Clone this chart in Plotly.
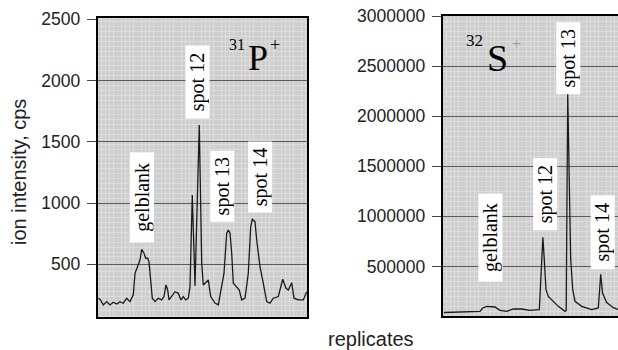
import plotly.graph_objects as go

# ---- data ----
# 31P+ panel: replicate position (arbitrary units) and ion intensity (cps)
p_x = [0.6, 2.3, 5.6, 9.0, 12.3, 15.6, 19.0, 22.3, 25.6, 29.0,
       32.3, 35.6, 37.3, 40.0, 42.3, 44.0, 46.3, 48.0, 50.0, 51.3,
       53.0, 54.6, 57.3, 60.6, 64.0, 66.3, 68.3, 70.0, 71.3, 74.0,
       77.3, 80.6, 83.3, 85.6, 88.0, 90.6, 92.3, 94.6, 97.3, 101.6,
       104.0, 105.6, 110.6, 113.0, 117.3, 120.6, 124.0, 126.3, 129.0, 130.6,
       132.3, 134.0, 135.6, 139.0, 141.6, 144.0, 147.3, 150.6, 153.0, 154.6,
       157.3, 159.0, 162.3, 165.6, 169.0, 172.3, 175.6, 180.6, 185.0, 188.3,
       190.6, 194.0, 196.3, 200.6, 205.6, 209.0]
p_y = [223, 215, 168, 195, 168, 190, 176, 195, 182, 223,
       195, 250, 426, 481, 535, 622, 590, 549, 549, 521,
       345, 223, 195, 223, 209, 236, 331, 290, 209, 236,
       276, 263, 209, 236, 209, 223, 317, 1066, 323, 1637,
       510, 331, 372, 236, 183, 168, 317, 427, 753, 780,
       753, 592, 345, 317, 290, 209, 223, 427, 807, 867,
       848, 698, 480, 345, 195, 182, 223, 236, 378, 304,
       290, 350, 223, 209, 209, 276]

# 32S+ panel
s_x = [1.3, 5.6, 17.3, 27.3, 37.3, 40.0, 44.0, 52.3, 57.3, 64.0,
       70.6, 79.0, 87.3, 96.6, 98.0, 100.2, 102.0, 103.3, 105.6, 109.3,
       115.6, 122.3, 123.5, 125.0, 126.8, 128.0, 130.0, 132.3, 139.0, 149.0,
       155.6, 158.0, 159.8, 164.0, 170.6, 175.3]
s_y = [40000, 41000, 42000, 45000, 51000, 85000, 101000, 95000, 61000, 51000,
       75000, 75000, 61000, 68000, 334000, 790000, 500000, 268000, 201000, 160000,
       101000, 51000, 60000, 2225000, 900000, 567000, 270000, 151000, 101000, 68000,
       85000, 422000, 235000, 140000, 88000, 70000]

p_ticks = [500, 1000, 1500, 2000, 2500]
s_ticks = [500000, 1000000, 1500000, 2000000, 2500000, 3000000]

peak_labels = ["gelblank", "spot 12", "spot 13", "spot 14"]
p_label_x = [44.0, 99.8, 124.8, 162.6]
p_label_y = [1048, 1984, 1133, 1215]
p_label_len = [89, 72, 70, 70]
s_label_x = [47.3, 102.5, 126.1, 160.3]
s_label_y = [783000, 1218000, 2581000, 836000]
s_label_len = [87, 71, 71, 73]

W, H = 618, 350
def px(x):
    return x / W
def py(y):
    return 1 - y / H

fig = go.Figure()
fig.add_trace(go.Scatter(x=p_x, y=p_y, mode="lines", xaxis="x", yaxis="y",
                         line=dict(color="#1a1a1a", width=1.3), showlegend=False))
fig.add_trace(go.Scatter(x=s_x, y=s_y, mode="lines", xaxis="x2", yaxis="y2",
                         line=dict(color="#1a1a1a", width=1.3), showlegend=False))

tickfont = dict(family="Liberation Sans, Arial, sans-serif", size=17.5, color="#222")
bg = "#cecece"
minor_grid = "#dddddd"

common_x = dict(showticklabels=False, ticks="", showgrid=False, zeroline=False,
                showline=True, linecolor="black", linewidth=2, mirror=True,
                dtick=20, tick0=0, automargin=False,
                minor=dict(showgrid=True, dtick=4, tick0=0, gridcolor=minor_grid, gridwidth=1, ticks=""))

fig.update_layout(
    width=W, height=H, margin=dict(l=0, r=0, t=0, b=0, autoexpand=False),
    paper_bgcolor="white", plot_bgcolor=bg,
    xaxis=dict(domain=[px(97.7), px(307.3)], range=[0, 209.6], anchor="y", **common_x),
    yaxis=dict(domain=[py(316.7), py(18.3)], range=[72, 2508], anchor="x", automargin=False,
               tickvals=p_ticks, ticktext=[str(v) for v in p_ticks],
               ticks="outside", ticklen=9, tickcolor="#444", tickwidth=1,
               ticklabelstandoff=3, tickfont=tickfont,
               showgrid=True, gridcolor="#5c5c5c", gridwidth=1, zeroline=False,
               showline=True, linecolor="black", linewidth=2, mirror=True,
               minor=dict(showgrid=True, dtick=40, tick0=0, gridcolor=minor_grid, gridwidth=1, ticks="")),
    xaxis2=dict(domain=[px(442.7), 1.0], range=[0, 175.3], anchor="y2", **common_x),
    yaxis2=dict(domain=[py(316), py(16)], range=[5000, 3000000], anchor="x2", automargin=False,
                tickvals=s_ticks, ticktext=[str(v) for v in s_ticks],
                ticks="outside", ticklen=9, tickcolor="#444", tickwidth=1,
                ticklabelstandoff=3, tickfont=tickfont,
                showgrid=True, gridcolor="#5c5c5c", gridwidth=1, zeroline=False,
                showline=True, linecolor="black", linewidth=2, mirror=False,
                minor=dict(showgrid=True, dtick=50000, tick0=0, gridcolor=minor_grid, gridwidth=1, ticks="")),
)

serif = "Liberation Serif, Times New Roman, serif"
ann = []
for lab, x, y, L in zip(peak_labels, p_label_x, p_label_y, p_label_len):
    ann.append(dict(text=lab, x=x, y=y, xref="x", yref="y", showarrow=False, textangle=-90,
                    font=dict(family=serif, size=20, color="black"), bgcolor="white",
                    width=L, borderpad=0, xanchor="center", yanchor="middle"))
for lab, x, y, L in zip(peak_labels, s_label_x, s_label_y, s_label_len):
    ann.append(dict(text=lab, x=x, y=y, xref="x2", yref="y2", showarrow=False, textangle=-90,
                    font=dict(family=serif, size=20, color="black"), bgcolor="white",
                    width=L, borderpad=0, xanchor="center", yanchor="middle"))

# isotope labels
iso = [
    ("31", 237, 45, 16, "black"), ("P", 258, 58, 36, "black"), ("+", 275, 45, 18, "black"),
    ("32", 474, 40, 17, "black"), ("S", 497, 58, 38, "black"), ("+", 516, 44, 16, "#9a9a9a"),
]
for t, x, y, s, c in iso:
    ann.append(dict(text=t, x=px(x), y=py(y), xref="paper", yref="paper", showarrow=False,
                    font=dict(family=serif, size=s, color=c), xanchor="center", yanchor="middle"))

sans = "Liberation Sans, Arial, sans-serif"
ann.append(dict(text="ion intensity, cps", x=px(19), y=py(172), xref="paper", yref="paper",
                showarrow=False, textangle=-90, font=dict(family=sans, size=20, color="#222"),
                xanchor="center", yanchor="middle"))
ann.append(dict(text="replicates", x=px(371), y=py(338.5), xref="paper", yref="paper",
                showarrow=False, font=dict(family=sans, size=20, color="#222"),
                xanchor="center", yanchor="middle"))

fig.update_layout(annotations=ann)
fig.write_html("out.html", config={"displayModeBar": False},
               post_script="document.body.style.margin='0';document.body.style.overflow='hidden';")
